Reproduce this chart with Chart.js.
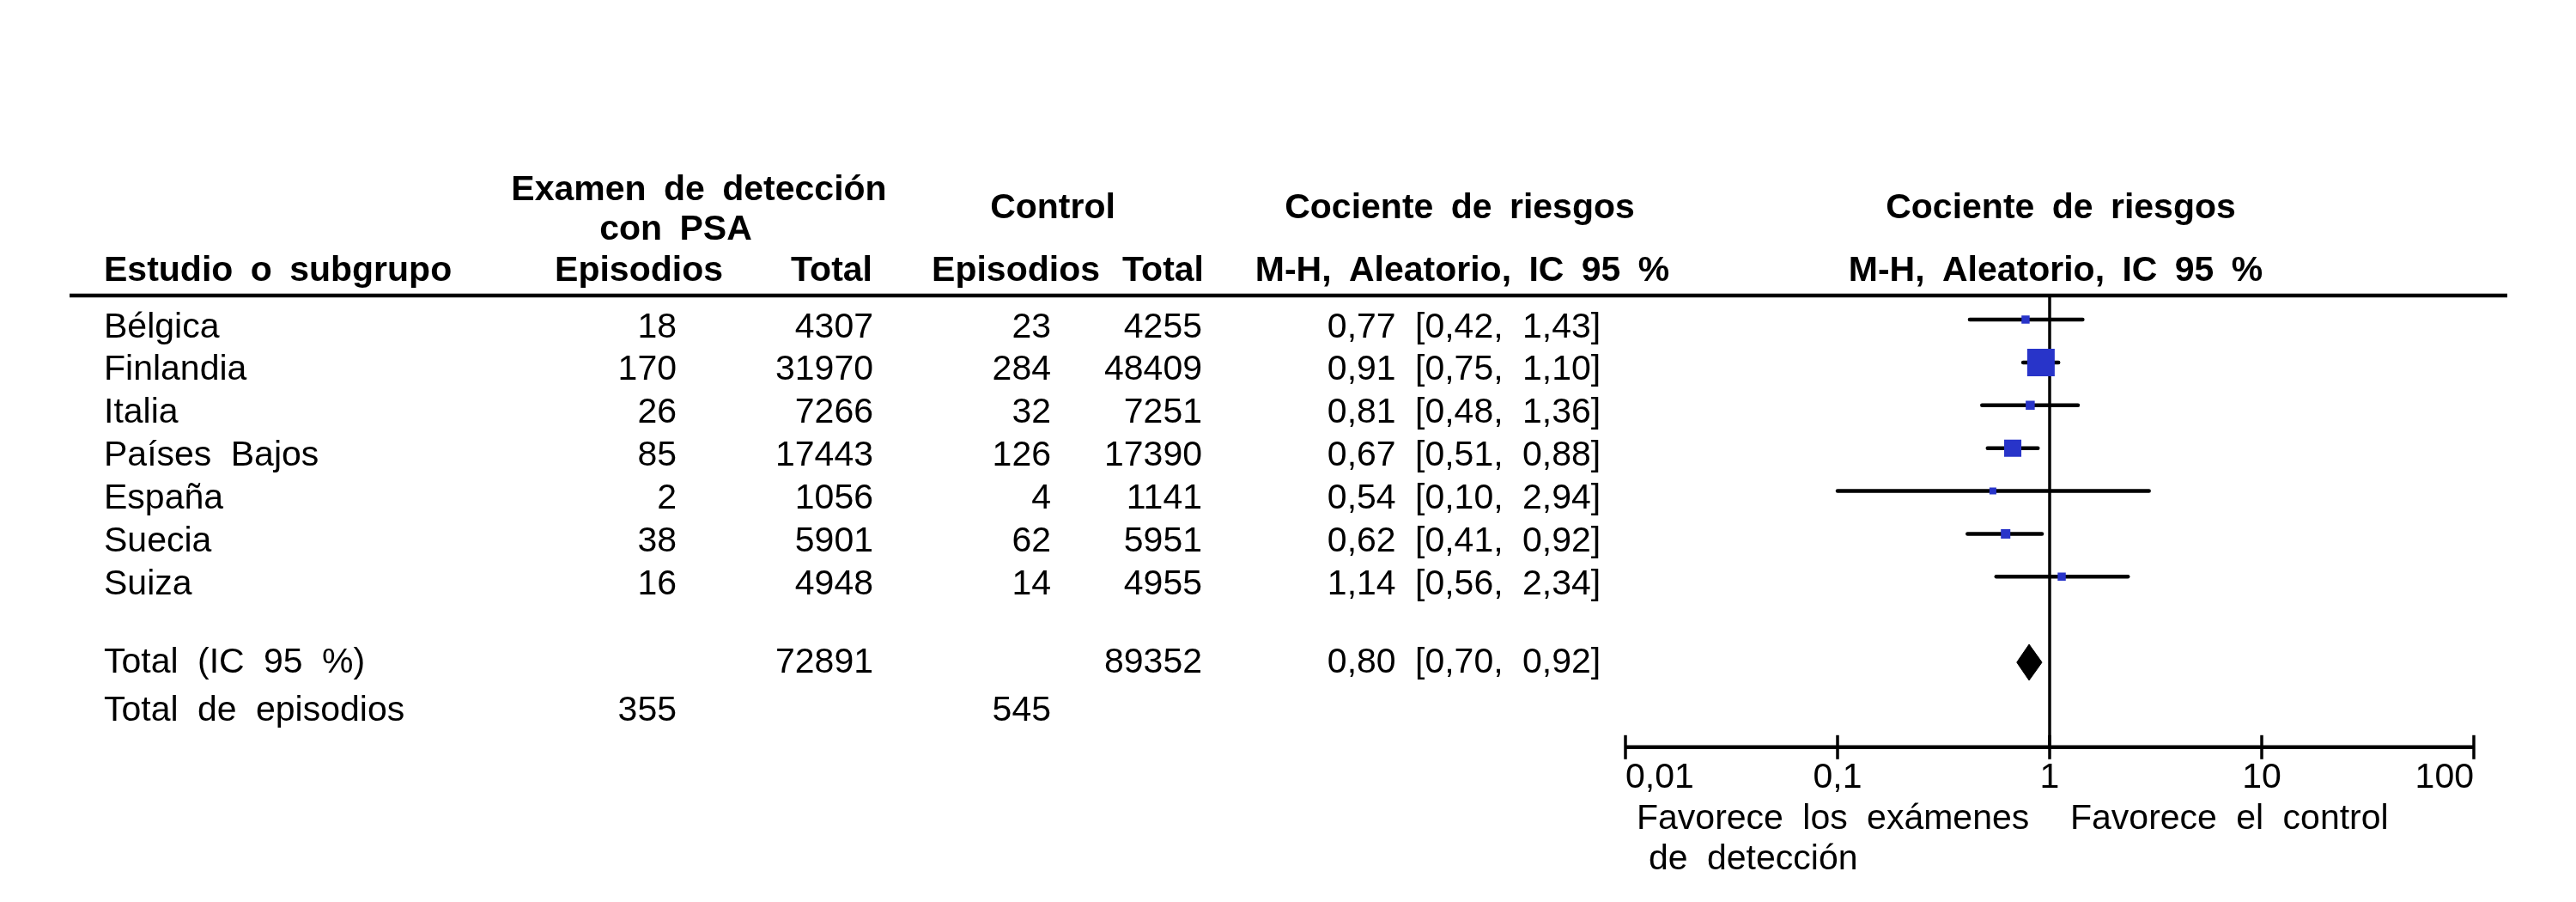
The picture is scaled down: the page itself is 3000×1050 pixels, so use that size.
<!DOCTYPE html>
<html>
<head>
<meta charset="utf-8">
<script src="https://cdn.jsdelivr.net/npm/chart.js@4/dist/chart.umd.min.js"></script>
<style>html,body{margin:0;padding:0;background:#fff}canvas{display:block}</style>
</head>
<body>
<canvas id="c" width="3000" height="1050"></canvas>
<script>
// ---------- data ----------
const studies = ['Bélgica', 'Finlandia', 'Italia', 'Países Bajos', 'España', 'Suecia', 'Suiza'];
const screenEvents = [18, 170, 26, 85, 2, 38, 16];
const screenTotal = [4307, 31970, 7266, 17443, 1056, 5901, 4948];
const controlEvents = [23, 284, 32, 126, 4, 62, 14];
const controlTotal = [4255, 48409, 7251, 17390, 1141, 5951, 4955];
const riskRatio = [0.77, 0.91, 0.81, 0.67, 0.54, 0.62, 1.14];
const ciLow = [0.42, 0.75, 0.48, 0.51, 0.10, 0.41, 0.56];
const ciHigh = [1.43, 1.10, 1.36, 0.88, 2.94, 0.92, 2.34];
const weights = [4.7, 53.9, 5.8, 21.1, 3.4, 6.4, 4.7];
const pooledRR = 0.80, pooledLow = 0.70, pooledHigh = 0.92;
const totalScreen = 72891, totalControl = 89352;
const eventsScreen = 355, eventsControl = 545;
const axisTicks = [0.01, 0.1, 1, 10, 100];

// ---------- layout / style ----------
const FAM = '"Liberation Sans", Arial, Helvetica, sans-serif';
const FS = 41;
const BLUE = '#2834c9';
const Y_MIN = -0.562, Y_MAX = 9.98;
const TOTAL_ROW = 8;
const TOTAL_TEXT_ROW = 7.83, EVENTS_TEXT_ROW = 8.96;
const TEXT_DROP = 20.5;

const fmt = v => v.toFixed(2).replace('.', ',');
const ciText = (r, l, h) => `${fmt(r)} [${fmt(l)}, ${fmt(h)}]`;
const boxRadius = w => (4.36 * Math.sqrt(w)) / (2 * Math.SQRT1_2);

const datasets = [];
// squares
datasets.push({
  label: 'RR', order: 0,
  data: studies.map((s, i) => ({x: riskRatio[i], y: i})),
  pointStyle: 'rect',
  pointRadius: weights.map(boxRadius),
  pointHoverRadius: weights.map(boxRadius),
  backgroundColor: BLUE, borderWidth: 0, showLine: false
});
// whiskers
studies.forEach((s, i) => {
  datasets.push({
    label: 'CI ' + s, order: 2,
    data: [{x: ciLow[i], y: i}, {x: ciHigh[i], y: i}],
    showLine: true, borderColor: '#000', borderWidth: 4.5, borderCapStyle: 'round',
    pointRadius: 0, fill: false
  });
});
// diamond (upper and lower halves, filled between)
datasets.push({
  label: 'pooled-top', order: 1,
  data: [{x: pooledLow, y: TOTAL_ROW}, {x: pooledRR, y: TOTAL_ROW - 0.42}, {x: pooledHigh, y: TOTAL_ROW}],
  showLine: true, borderColor: '#000', borderWidth: 1, pointRadius: 0, fill: false, tension: 0
});
datasets.push({
  label: 'pooled-bottom', order: 1,
  data: [{x: pooledLow, y: TOTAL_ROW}, {x: pooledRR, y: TOTAL_ROW + 0.42}, {x: pooledHigh, y: TOTAL_ROW}],
  showLine: true, borderColor: '#000', borderWidth: 1, pointRadius: 0, fill: '-1', backgroundColor: '#000', tension: 0
});
// line of no effect
datasets.push({
  label: 'null', order: 3,
  data: [{x: 1, y: Y_MIN}, {x: 1, y: Y_MAX}],
  showLine: true, borderColor: '#000', borderWidth: 3.5, pointRadius: 0, fill: false
});

const tablePlugin = {
  id: 'tablePlugin',
  afterDraw(chart) {
    const ctx = chart.ctx;
    const xs = chart.scales.x, ys = chart.scales.y;
    ctx.save();
    ctx.fillStyle = '#000';
    ctx.strokeStyle = '#000';
    ctx.textBaseline = 'alphabetic';
    const txt = (s, px, py, align, bold) => {
      ctx.font = (bold ? 'bold ' : '') + FS + 'px ' + FAM;
      if ('wordSpacing' in ctx) ctx.wordSpacing = bold ? '9px' : '11px';
      ctx.textAlign = align;
      ctx.fillText(s, px, py);
    };
    // header
    txt('Examen de detección', 814, 233, 'center', true);
    txt('con PSA', 787, 279, 'center', true);
    txt('Control', 1226, 254, 'center', true);
    txt('Cociente de riesgos', 1700, 254, 'center', true);
    txt('Cociente de riesgos', 2400, 254, 'center', true);
    txt('Estudio o subgrupo', 121, 327, 'left', true);
    txt('Episodios', 842, 327, 'right', true);
    txt('Total', 1016, 327, 'right', true);
    txt('Episodios', 1281, 327, 'right', true);
    txt('Total', 1402, 327, 'right', true);
    txt('M-H, Aleatorio, IC 95 %', 1703, 327, 'center', true);
    txt('M-H, Aleatorio, IC 95 %', 2394, 327, 'center', true);

    // header rule
    const ruleY = ys.getPixelForValue(Y_MIN);
    ctx.lineWidth = 4.5;
    ctx.beginPath(); ctx.moveTo(81, ruleY); ctx.lineTo(2920, ruleY); ctx.stroke();

    // study rows
    studies.forEach((s, i) => {
      const by = ys.getPixelForValue(i) + TEXT_DROP;
      txt(s, 121, by, 'left', false);
      txt(String(screenEvents[i]), 788, by, 'right', false);
      txt(String(screenTotal[i]), 1017, by, 'right', false);
      txt(String(controlEvents[i]), 1224, by, 'right', false);
      txt(String(controlTotal[i]), 1400, by, 'right', false);
      txt(ciText(riskRatio[i], ciLow[i], ciHigh[i]), 1705, by, 'center', false);
    });
    // totals
    const ty = ys.getPixelForValue(TOTAL_TEXT_ROW) + TEXT_DROP;
    txt('Total (IC 95 %)', 121, ty, 'left', false);
    txt(String(totalScreen), 1017, ty, 'right', false);
    txt(String(totalControl), 1400, ty, 'right', false);
    txt(ciText(pooledRR, pooledLow, pooledHigh), 1705, ty, 'center', false);
    const ey = ys.getPixelForValue(EVENTS_TEXT_ROW) + TEXT_DROP;
    txt('Total de episodios', 121, ey, 'left', false);
    txt(String(eventsScreen), 788, ey, 'right', false);
    txt(String(eventsControl), 1224, ey, 'right', false);

    // x axis line + ticks
    const axY = chart.chartArea.bottom;
    ctx.lineWidth = 4.5;
    ctx.beginPath();
    ctx.moveTo(xs.getPixelForValue(axisTicks[0]), axY);
    ctx.lineTo(xs.getPixelForValue(axisTicks[axisTicks.length - 1]), axY);
    ctx.stroke();
    ctx.lineWidth = 3.5;
    axisTicks.forEach(t => {
      const px = xs.getPixelForValue(t);
      ctx.beginPath(); ctx.moveTo(px, axY - 14); ctx.lineTo(px, axY + 14); ctx.stroke();
    });

    // favour labels
    txt('Favorece los exámenes', 1906, 965, 'left', false);
    txt('de detección', 1920, 1012, 'left', false);
    txt('Favorece el control', 2411, 965, 'left', false);
    ctx.restore();
  }
};

new Chart(document.getElementById('c'), {
  type: 'scatter',
  data: {datasets},
  plugins: [tablePlugin],
  options: {
    responsive: false,
    animation: false,
    devicePixelRatio: 1,
    layout: {padding: {left: 1893, right: 119, top: 344, bottom: 109}},
    plugins: {legend: {display: false}, tooltip: {enabled: false}},
    scales: {
      x: {
        type: 'logarithmic', min: 0.01, max: 100, position: 'bottom',
        afterBuildTicks: scale => { scale.ticks = axisTicks.map(v => ({value: v})); },
        grid: {display: false, drawTicks: false},
        border: {display: false},
        ticks: {
          color: '#000', align: 'inner', padding: 11, maxRotation: 0, autoSkip: false,
          font: {family: FAM, size: FS},
          callback: v => String(v).replace('.', ',')
        }
      },
      y: {
        type: 'linear', reverse: true, min: Y_MIN, max: Y_MAX, display: false
      }
    }
  }
});
</script>
</body>
</html>
